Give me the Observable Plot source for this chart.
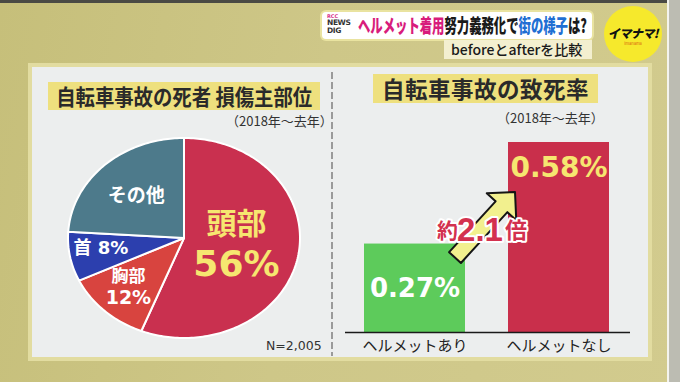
<!DOCTYPE html>
<html><head><meta charset="utf-8">
<script src="https://cdn.jsdelivr.net/npm/d3@7"></script>
<script src="https://cdn.jsdelivr.net/npm/@observablehq/plot@0.6"></script>
<style>
html,body{margin:0;padding:0;}
body{width:680px;height:382px;overflow:hidden;position:relative;
 background:linear-gradient(100deg,#c6bf7a 0%,#cec788 45%,#d2cb8e 100%);
 font-family:"Noto Sans CJK JP","Noto Sans",sans-serif;}
.abs{position:absolute;}
.panel{left:32px;top:67px;width:616px;height:290px;background:#eceeee;box-shadow:0 0 0 4px #e2dca0;}
.hl{background:#eee07e;color:#2a2a2a;font-weight:700;text-align:center;white-space:nowrap;}
.sub{font-size:13px;color:#333;white-space:nowrap;}
</style></head>
<body>
<div class="abs" style="left:0;top:0;width:680px;height:3px;background:#4a4a44"></div>
<div class="abs" style="left:667px;top:0;width:2px;height:382px;background:#f4f4ee"></div>
<div class="abs" style="left:669px;top:0;width:11px;height:382px;background:#bcbcb2"></div>

<!-- banner -->
<div class="abs" style="left:322px;top:12px;width:270px;height:27px;background:#fff;border-radius:4px;box-shadow:0 0 0 2px #e9e3a0"></div>
<div class="abs" style="left:327px;top:14px;width:26px;line-height:1;font-family:'DejaVu Sans';font-weight:bold;color:#333">
 <div style="font-size:5px;color:#d8338a">RCC</div>
 <div style="font-size:7.5px;letter-spacing:-0.4px">NEWS</div>
 <div style="font-size:7.5px;letter-spacing:-0.4px">DIG</div>
</div>
<div class="abs" style="left:358px;top:13px;font-size:19px;font-weight:900;white-space:nowrap;line-height:24px;transform:scaleX(0.65);transform-origin:0 0;color:#1a1a1a">
 <span style="color:#d81c7c">ヘルメット着用</span>努力義務化で<span style="color:#1f6fd3">街の様子</span>は?
</div>
<div class="abs" style="left:444px;top:40px;width:148px;height:19px;background:#f3efcf;"></div>
<div class="abs" style="left:451px;top:39px;font-size:14px;font-weight:500;color:#1a1a1a;white-space:nowrap;line-height:20px">beforeとafterを比較</div>
<div class="abs" style="left:604px;top:6px;width:58px;height:56px;border-radius:50%;background:#f6e92c;"></div>
<div class="abs" style="left:604px;top:26px;width:58px;text-align:center;font-size:12px;font-weight:900;color:#111;font-style:italic;line-height:14px;white-space:nowrap;letter-spacing:-0.5px">イマナマ!</div>
<div class="abs" style="left:604px;top:41px;width:58px;text-align:center;font-size:4px;color:#d9620f;line-height:5px">imanama</div>

<div class="abs panel"></div>
<div class="abs" style="left:331px;top:72px;width:2px;height:284px;background:repeating-linear-gradient(to bottom,#9a9a9a 0 7px,transparent 7px 10px)"></div>

<!-- left titles -->
<div class="abs hl" style="left:48px;top:82px;width:272px;height:28px;line-height:28px;font-size:21.5px"><span style="display:inline-block;transform:scaleX(0.9);transform-origin:50% 50%;margin:0 -14px">自転車事故の死者 損傷主部位</span></div>
<div class="abs sub" style="left:226px;top:111px;">（2018年〜去年）</div>
<div id="note" class="abs sub" style="left:266px;top:338px;font-family:'DejaVu Sans';font-size:12.5px">N=2,005</div>

<!-- right titles -->
<div class="abs hl" style="left:373px;top:74px;width:225px;height:29px;line-height:29px;font-size:22.5px;letter-spacing:0.5px">自転車事故の致死率</div>
<div class="abs sub" style="left:497px;top:108px;">（2018年〜去年）</div>

<div id="pie" class="abs" style="left:40px;top:125px;"></div>
<div id="bars" class="abs" style="left:340px;top:125px;"></div>

<script>
// ---- data ----
const parts = ["頭部", "胸部", "首", "その他"];
const shares = [56, 12, 8, 24];
const partColors = ["#c9304f", "#d8443f", "#2c3fae", "#4d7a8b"];
const sampleSize = 2005;

const groups = ["ヘルメットあり", "ヘルメットなし"];
const rates = [0.27, 0.58];
const barColors = ["#5dcb5b", "#c92f4b"];

const CJK = "Noto Sans CJK JP";
const NUM = "DejaVu Sans, Noto Sans CJK JP";
const YEL = "#f6e670";

document.getElementById("note").textContent = "N=" + d3.format(",")(sampleSize);

// ---- pie ----
const arcs = d3.pie().sort(null)(shares);
const slices = arcs.map(a => {
  const n = Math.max(4, Math.ceil((a.endAngle - a.startAngle) / 0.02));
  const pts = [{x: 0, y: 0}];
  for (let k = 0; k <= n; k++) {
    const t = a.startAngle + (a.endAngle - a.startAngle) * k / n;
    pts.push({x: Math.sin(t), y: Math.cos(t)});
  }
  return pts;
});
const labelR = [0.46, 0.70, 0.73, 0.60];
const labels = arcs.map((a, i) => {
  const m = (a.startAngle + a.endAngle) / 2;
  return {x: labelR[i] * Math.sin(m), y: labelR[i] * Math.cos(m), part: parts[i], share: shares[i]};
});

const pie = Plot.plot({
  width: 290, height: 225, margin: 0,
  x: {domain: [-1, 1], range: [27.5, 259.5], axis: null},
  y: {domain: [-1, 1], range: [212.5, 12.5], axis: null},
  style: {background: "transparent", overflow: "visible"},
  marks: [
    ...slices.map((pts, i) => Plot.line(pts, {x: "x", y: "y", fill: partColors[i], stroke: "white", strokeWidth: 2, strokeLinejoin: "round", curve: "linear-closed"})),
    Plot.text([labels[0]], {x: "x", y: "y", text: "part", dy: -22, fontSize: 30, fontWeight: "bold", fontFamily: CJK, fill: YEL}),
    Plot.text([labels[0]], {x: "x", y: "y", text: d => d.share + "%", dy: 18, fontSize: 36, fontWeight: "bold", fontFamily: NUM, fill: YEL}),
    Plot.text([labels[1]], {x: "x", y: "y", text: "part", dy: -12, fontSize: 17, fontWeight: "bold", fontFamily: CJK, fill: "white"}),
    Plot.text([labels[1]], {x: "x", y: "y", text: d => d.share + "%", dy: 9, fontSize: 19, fontWeight: "bold", fontFamily: NUM, fill: "white"}),
    Plot.text([labels[2]], {x: "x", y: "y", text: d => d.part + " " + d.share + "%", dy: -3, fontSize: 18, fontWeight: "bold", fontFamily: NUM, fill: "white"}),
    Plot.text([labels[3]], {x: "x", y: "y", text: "part", dy: 2, fontSize: 19, fontWeight: "bold", fontFamily: CJK, fill: "white"})
  ]
});
document.getElementById("pie").appendChild(pie);

// ---- bars ----
const barData = groups.map((g, i) => ({group: g, rate: rates[i]}));
const ratio = (rates[1] / rates[0]).toFixed(1);

function arrowMark(index, scales) {
  const sx = typeof scales.x === "function" ? scales.x : (scales.scales && scales.scales.x) || scales.x.apply;
  const sy = typeof scales.y === "function" ? scales.y : (scales.scales && scales.scales.y) || scales.y.apply;
  const bwRaw = scales.x.bandwidth;
  const bw = typeof bwRaw === "function" ? bwRaw() : (bwRaw || 0);
  const T = [sx(groups[0]) + bw - 10, sy(rates[0]) + 14];
  const P = [sx(groups[1]) + 7, sy(rates[1]) + 50];
  const dx = P[0] - T[0], dy = P[1] - T[1], L = Math.hypot(dx, dy);
  const u = [dx / L, dy / L], n = [-u[1], u[0]];
  const w = 8, h = 20, hl = 20;
  const B = [P[0] - u[0] * hl, P[1] - u[1] * hl];
  const pt = (p, s) => [p[0] + n[0] * s, p[1] + n[1] * s];
  const pts = [pt(T, w), pt(B, w), pt(B, h), P, pt(B, -h), pt(B, -w), pt(T, -w)];
  const g = d3.create("svg:g");
  g.append("polygon").attr("points", pts.map(p => p.join(",")).join(" "))
    .attr("fill", "#f2f08e").attr("stroke", "#151515").attr("stroke-width", 2).attr("stroke-linejoin", "round");
  return g.node();
}

const bars = Plot.plot({
  width: 305, height: 235,
  marginLeft: 5, marginRight: 15, marginTop: 17, marginBottom: 28,
  x: {domain: groups, range: [24, 269], paddingInner: 0.3, paddingOuter: 0, tickSize: 0, tickPadding: 8, label: null},
  y: {domain: [0, d3.max(rates)], range: [207, 17], axis: null},
  color: {domain: groups, range: barColors},
  style: {background: "transparent", overflow: "visible", fontSize: "15px", fontFamily: CJK, color: "#222"},
  marks: [
    Plot.barY(barData, {x: "group", y: "rate", fill: "group"}),
    Plot.ruleY([0], {stroke: "#1a1a1a", strokeWidth: 1.5}),
    arrowMark,
    Plot.text(barData.slice(0, 1), {x: "group", y: d => d.rate / 2, text: d => d.rate + "%", fontSize: 26, fontWeight: "bold", fontFamily: NUM, fill: "white"}),
    Plot.text(barData.slice(1, 2), {x: "group", y: "rate", dy: 26, text: d => d.rate + "%", fontSize: 28, fontWeight: "bold", fontFamily: NUM, fill: YEL}),
    Plot.text([rates[0]], {y: d => d, dy: -13, dx: -30, text: () => "約", textAnchor: "end", fontSize: 21, fontWeight: "bold", fontFamily: CJK, fill: "#d3314f", stroke: "white", strokeWidth: 4, paintOrder: "stroke"}),
    Plot.text([rates[0]], {y: d => d, dy: -14, dx: -8, text: () => ratio, textAnchor: "middle", fontSize: 33, fontWeight: "bold", fontFamily: "Liberation Sans", fill: "#d3314f", stroke: "white", strokeWidth: 4, paintOrder: "stroke"}),
    Plot.text([rates[0]], {y: d => d, dy: -13, dx: 17, text: () => "倍", textAnchor: "start", fontSize: 22, fontWeight: "bold", fontFamily: CJK, fill: "#d3314f", stroke: "white", strokeWidth: 4, paintOrder: "stroke"})
  ]
});
document.getElementById("bars").appendChild(bars);
</script>
</body></html>
